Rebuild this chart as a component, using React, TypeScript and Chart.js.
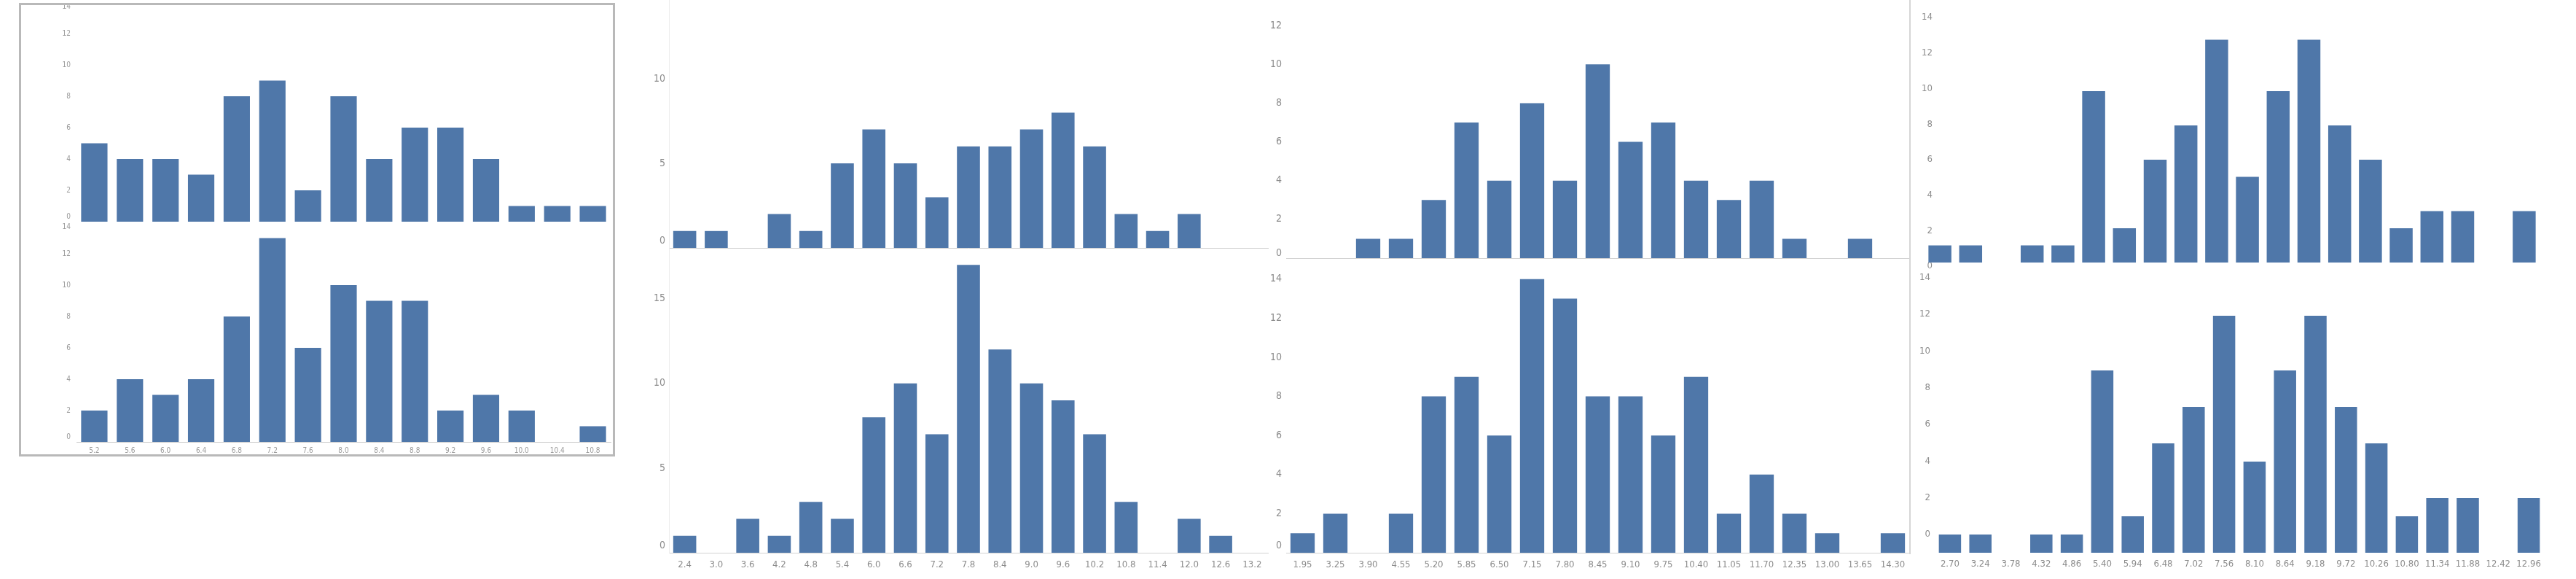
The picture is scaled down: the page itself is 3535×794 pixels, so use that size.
import React, { useEffect, useRef } from 'react';
import { Chart, registerables } from 'chart.js';

Chart.register(...registerables);

// ---------------- data ----------------
const p1Labels = ['5.2', '5.6', '6.0', '6.4', '6.8', '7.2', '7.6', '8.0', '8.4', '8.8', '9.2', '9.6', '10.0', '10.4', '10.8'];
const p1TopValues = [5, 4, 4, 3, 8, 9, 2, 8, 4, 6, 6, 4, 1, 1, 1];
const p1BottomValues = [2, 4, 3, 4, 8, 13, 6, 10, 9, 9, 2, 3, 2, 0, 1];

const p2Labels = ['2.4', '3.0', '3.6', '4.2', '4.8', '5.4', '6.0', '6.6', '7.2', '7.8', '8.4', '9.0', '9.6', '10.2', '10.8', '11.4', '12.0', '12.6', '13.2'];
const p2TopValues = [1, 1, 0, 2, 1, 5, 7, 5, 3, 6, 6, 7, 8, 6, 2, 1, 2, 0, 0];
const p2BottomValues = [1, 0, 2, 1, 3, 2, 8, 10, 7, 17, 12, 10, 9, 7, 3, 0, 2, 1, 0];

const p3Labels = ['1.95', '3.25', '3.90', '4.55', '5.20', '5.85', '6.50', '7.15', '7.80', '8.45', '9.10', '9.75', '10.40', '11.05', '11.70', '12.35', '13.00', '13.65', '14.30'];
const p3TopValues = [0, 0, 1, 1, 3, 7, 4, 8, 4, 10, 6, 7, 4, 3, 4, 1, 0, 1, 0];
const p3BottomValues = [1, 2, 0, 2, 8, 9, 6, 14, 13, 8, 8, 6, 9, 2, 4, 2, 1, 0, 1];

const p4TopLabels = ['2.70', '3.24', '3.78', '4.32', '4.86', '5.40', '5.94', '6.48', '7.02', '7.56', '8.10', '8.64', '9.18', '9.72', '10.26', '10.80', '11.34', '11.88', '12.42', '12.96'];
const p4BottomLabels = ['2.70', '3.24', '3.78', '4.32', '4.86', '5.40', '5.94', '6.48', '7.02', '7.56', '8.10', '8.64', '9.18', '9.72', '10.26', '10.80', '11.34', '11.88', '12.42', '12.96'];
const p4TopValues = [1, 1, 0, 1, 1, 10, 2, 6, 8, 13, 5, 10, 13, 8, 6, 2, 3, 3, 0, 3];
const p4BottomValues = [1, 1, 0, 1, 1, 10, 2, 6, 8, 13, 5, 10, 13, 8, 6, 2, 3, 3, 0, 3];

// ---------------- styling / layout ----------------
const FONT = "'Liberation Sans Narrow', 'DejaVu Sans Condensed', 'Liberation Sans', Arial, sans-serif";
const BAR = 'rgb(79,119,169)';

type Spec = {
  labels: string[];
  values: number[];
  area: [number, number, number, number];
  yw: number;
  xh: number;
  padTop: number;
  barMin: number;
  barMax: number;
  tickMin: number;
  tickMax: number;
  step: number;
  yFont: number;
  yLine: number;
  yPad: number;
  yColor: string;
  yMirror: boolean;
  liftZero: boolean;
  dropTop: number | null;
  showX: boolean;
  xFont: number;
  xPad: number;
  xColor: string;
  xBorder: string | null;
  yBorder: string | null;
  barPct: number;
};

const base = {
  yLine: 1.4,
  yMirror: false,
  liftZero: true,
  dropTop: null,
  yColor: '#8c8c8c',
  xColor: '#8c8c8c',
  xBorder: null,
  yBorder: null,
  barPct: 0.74,
};

const specs: Spec[] = [
  {
    ...base, labels: p1Labels, values: p1TopValues, area: [105, 3, 838, 304], yw: 30, xh: 3, padTop: 10,
    barMin: 0, barMax: 14, tickMin: 0, tickMax: 14, step: 2, yFont: 10, yLine: 1.3, yPad: 8, yColor: '#9c9c9c',
    dropTop: 14, showX: false, xFont: 10, xPad: 6, xColor: '#9c9c9c',
  },
  {
    ...base, labels: p1Labels, values: p1BottomValues, area: [105, 305, 838, 606], yw: 30, xh: 22, padTop: 10,
    barMin: 0, barMax: 14, tickMin: 0, tickMax: 14, step: 2, yFont: 10, yLine: 1.3, yPad: 8, yColor: '#9c9c9c',
    dropTop: 14, showX: true, xFont: 10, xPad: 6, xColor: '#9c9c9c', xBorder: '#cccccc',
  },
  {
    ...base, labels: p2Labels, values: p2TopValues, area: [918, -8, 1740, 340], yw: 40, xh: 3, padTop: 10,
    barMin: 0, barMax: 15, tickMin: 0, tickMax: 15, step: 5, yFont: 14, yPad: 5,
    showX: false, xFont: 13, xPad: 9, xBorder: '#d2d2d2', yBorder: '#ececec', barPct: 0.73,
  },
  {
    ...base, labels: p2Labels, values: p2BottomValues, area: [918, 340, 1740, 758], yw: 40, xh: 36, padTop: 10,
    barMin: 0, barMax: 18, tickMin: 0, tickMax: 18, step: 5, yFont: 14, yPad: 5,
    showX: true, xFont: 13, xPad: 9, xBorder: '#d2d2d2', yBorder: '#ececec', barPct: 0.73,
  },
  {
    ...base, labels: p3Labels, values: p3TopValues, area: [1765, -18, 2620, 354], yw: 40, xh: 3, padTop: 10,
    barMin: 0, barMax: 14, tickMin: 0, tickMax: 14, step: 2, yFont: 14, yLine: 1.0, yPad: 6,
    showX: false, xFont: 13, xPad: 9, xBorder: '#d2d2d2',
  },
  {
    ...base, labels: p3Labels, values: p3BottomValues, area: [1765, 356, 2620, 758], yw: 40, xh: 36, padTop: 10,
    barMin: 0, barMax: 15, tickMin: 0, tickMax: 15, step: 2, yFont: 14, yPad: 6,
    showX: true, xFont: 13, xPad: 9, xBorder: '#d2d2d2',
  },
  {
    ...base, labels: p4TopLabels, values: p4TopValues, area: [2641, 5, 3485, 372], yw: 10, xh: 14, padTop: 10,
    barMin: -0.51, barMax: 15.11, tickMin: -0.287, tickMax: 14.78, step: 2, yFont: 13, yPad: -4, yMirror: true,
    liftZero: false, showX: true, xFont: 7, xPad: -7, xColor: '#c2c2c2', barPct: 0.746,
  },
  {
    ...base, labels: p4BottomLabels, values: p4BottomValues, area: [2655, 358, 3491, 758], yw: 24, xh: 36, padTop: 10,
    barMin: 0, barMax: 16, tickMin: -1.0, tickMax: 14.9, step: 2, yFont: 13, yPad: 6,
    liftZero: false, showX: true, xFont: 13, xPad: 8, barPct: 0.73,
  },
];

function HistChart({ s }: { s: Spec }) {
  const ref = useRef<HTMLCanvasElement>(null);
  const [l, t, r, b] = s.area;
  const cl = l - s.yw;
  const ct = t - s.padTop;
  const cw = r - cl + 2;
  const ch = s.padTop + (b - t) + s.xh;

  useEffect(() => {
    if (!ref.current) return;
    const chart = new Chart(ref.current, {
      type: 'bar',
      data: {
        labels: s.labels,
        datasets: [
          {
            data: s.values,
            backgroundColor: BAR,
            borderWidth: 0,
            barPercentage: s.barPct,
            categoryPercentage: 1,
            yAxisID: 'y',
          },
        ],
      },
      options: {
        animation: false,
        responsive: false,
        maintainAspectRatio: false,
        devicePixelRatio: 1,
        events: [],
        layout: { padding: { top: s.padTop, right: 2, left: 0, bottom: 0 } },
        plugins: { legend: { display: false }, tooltip: { enabled: false }, title: { display: false } },
        scales: {
          x: {
            type: 'category',
            offset: true,
            grid: { display: false, drawTicks: false },
            border: { display: !!s.xBorder, color: s.xBorder || '#cccccc', width: 1 },
            ticks: {
              display: s.showX,
              autoSkip: false,
              maxRotation: 0,
              minRotation: 0,
              padding: s.xPad,
              color: s.xColor,
              font: { family: FONT, size: s.xFont },
            },
            afterFit: (sc: any) => {
              sc.height = s.xh;
              sc.paddingLeft = 0;
              sc.paddingRight = 0;
            },
          },
          y: {
            type: 'linear',
            display: false,
            min: s.barMin,
            max: s.barMax,
          },
          yl: {
            type: 'linear',
            position: 'left',
            min: s.tickMin,
            max: s.tickMax,
            grid: { display: false, drawTicks: false },
            border: { display: !!s.yBorder, color: s.yBorder || '#eeeeee', width: 1 },
            ticks: {
              stepSize: s.step,
              includeBounds: false,
              mirror: s.yMirror,
              crossAlign: s.yMirror ? 'far' : 'near',
              padding: s.yPad,
              color: s.yColor,
              font: { family: FONT, size: s.yFont, lineHeight: s.yLine },
              callback: (v: any) => {
                const n = Number(v);
                if (s.liftZero && n === 0) return ['0', ''];
                if (s.dropTop !== null && n === s.dropTop) return ['', String(n)];
                return String(n);
              },
            },
            afterFit: (sc: any) => {
              sc.width = s.yw;
              sc.paddingTop = 0;
              sc.paddingBottom = 0;
            },
          },
        },
      } as any,
    });
    return () => chart.destroy();
  }, []);

  return (
    <canvas
      ref={ref}
      width={cw}
      height={ch}
      style={{ position: 'absolute', left: cl, top: ct, width: cw, height: ch }}
    />
  );
}

export default function App() {
  return (
    <div
      style={{
        position: 'absolute',
        left: 0,
        top: 0,
        width: 3535,
        height: 794,
        overflow: 'hidden',
        background: '#ffffff',
      }}
    >
      {specs.map((s, i) => (
        <HistChart key={i} s={s} />
      ))}
      <div
        style={{
          position: 'absolute',
          left: 26,
          top: 4,
          width: 818,
          height: 622,
          border: '3px solid #b9b9b9',
          boxSizing: 'border-box',
          pointerEvents: 'none',
        }}
      />
      <div
        style={{
          position: 'absolute',
          left: 2620,
          top: 0,
          width: 2,
          height: 760,
          background: '#d6d6d6',
          pointerEvents: 'none',
        }}
      />
    </div>
  );
}
